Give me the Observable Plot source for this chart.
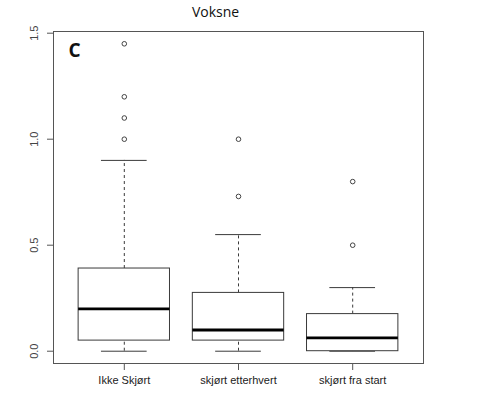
<!DOCTYPE html>
<html>
<head>
<meta charset="utf-8">
<script src="https://cdn.jsdelivr.net/npm/d3@7"></script>
<script src="https://cdn.jsdelivr.net/npm/@observablehq/plot@0.6"></script>
<style>
  html, body { margin: 0; padding: 0; background: #fff; }
</style>
</head>
<body>
<div id="chart"></div>
<script>
const categories = ["Ikke Skjørt", "skjørt etterhvert", "skjørt fra start"];
const whiskerLow = [0, 0, 0];
const q1 = [0.05, 0.05, 0];
const median = [0.2, 0.1, 0.063];
const q3 = [0.39, 0.275, 0.175];
const whiskerHigh = [0.9, 0.55, 0.3];
const outliers = [[1.0, 1.1, 1.2, 1.45], [0.73, 1.0], [0.5, 0.8]];
const yTicks = [0, 0.5, 1.0, 1.5];
const title = "Voksne";
const panelLabel = "C";

const boxes = categories.map((c, i) => ({
  pos: i + 1, cat: c,
  lo: whiskerLow[i], q1: q1[i], med: median[i], q3: q3[i], hi: whiskerHigh[i]
}));
const outPts = outliers.flatMap((arr, i) => arr.map(v => ({pos: i + 1, v})));

const halfBox = 0.4, halfCap = 0.2;
const lineColor = "#3a3a3a";

const chart = Plot.plot({
  width: 477,
  height: 399,
  marginLeft: 53,
  marginRight: 54,
  marginTop: 31,
  marginBottom: 36,
  style: {fontFamily: "'Liberation Sans', Arial, sans-serif", fontSize: "11px", color: "#444", background: "#fff"},
  x: {domain: [0.38, 3.62], axis: null},
  y: {domain: [-0.058, 1.508], axis: null},
  marks: [
    Plot.ruleX(boxes, {x: "pos", y1: "q3", y2: "hi", stroke: lineColor, strokeDasharray: "3,3"}),
    Plot.ruleX(boxes, {x: "pos", y1: "lo", y2: "q1", stroke: lineColor, strokeDasharray: "3,3"}),
    Plot.ruleY(boxes, {y: "hi", x1: d => d.pos - halfCap, x2: d => d.pos + halfCap, stroke: lineColor}),
    Plot.ruleY(boxes, {y: "lo", x1: d => d.pos - halfCap, x2: d => d.pos + halfCap, stroke: lineColor}),
    Plot.rect(boxes, {x1: d => d.pos - halfBox, x2: d => d.pos + halfBox, y1: "q1", y2: "q3", fill: "white", stroke: lineColor}),
    Plot.ruleY(boxes, {y: "med", x1: d => d.pos - halfBox, x2: d => d.pos + halfBox, stroke: "#000", strokeWidth: 2.8}),
    Plot.dot(outPts, {x: "pos", y: "v", r: 2.3, stroke: "#444", strokeWidth: 1, fill: "none"}),
    Plot.frame({stroke: "#555"}),
    Plot.axisX({ticks: [1, 2, 3], tickFormat: d => categories[d - 1], tickSize: 7, tickPadding: 6, stroke: "#555", fill: "#222", fontSize: 11, label: null}),
    Plot.axisY({ticks: yTicks, tickSize: 6, tickFormat: () => "", stroke: "#555", label: null}),
    Plot.text(yTicks, {y: d => d, frameAnchor: "left", dx: -19, rotate: -90, text: d => d.toFixed(1), textAnchor: "middle", fill: "#444", fontSize: 11}),
    Plot.text([title], {frameAnchor: "top", dx: -23, dy: -19, text: d => d, fontFamily: "'Open Sans', sans-serif", fontSize: 14, fill: "#111", lineAnchor: "middle"}),
    Plot.text([panelLabel], {frameAnchor: "top-left", dx: 15, dy: 19, text: d => d, fontFamily: "'Open Sans', sans-serif", fontWeight: "bold", fontSize: 19, fill: "#111", textAnchor: "start", lineAnchor: "middle"})
  ]
});
document.getElementById("chart").append(chart);
</script>
</body>
</html>
